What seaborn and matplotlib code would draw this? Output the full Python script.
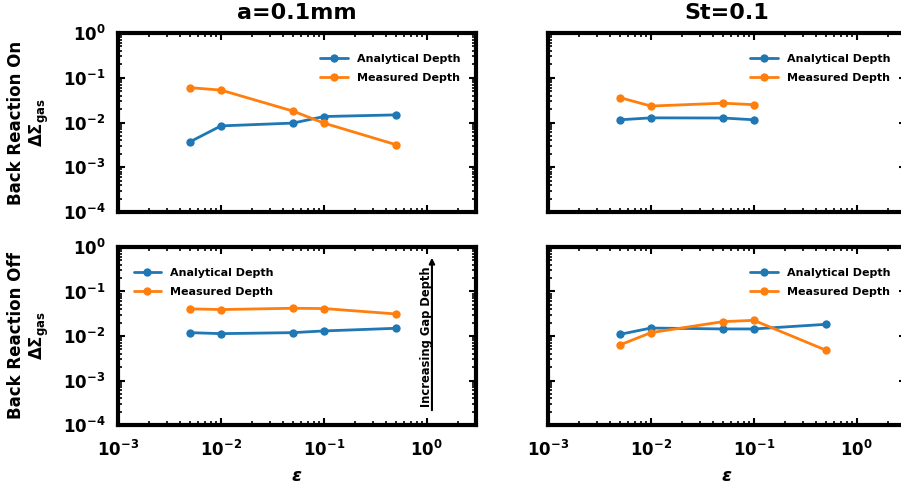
import matplotlib
matplotlib.use("Agg")
import matplotlib.pyplot as plt
import seaborn as sns
import pandas as pd
import numpy as np

# Data
eps_a = [0.005, 0.01, 0.05, 0.1, 0.5]
eps_st_on = [0.005, 0.01, 0.05, 0.1]
eps_st_off = [0.005, 0.01, 0.05, 0.1, 0.5]

# a=0.1mm, back reaction on
a_on_analytical = [0.0037, 0.0084, 0.0097, 0.0136, 0.0148]
a_on_measured = [0.060, 0.053, 0.018, 0.0097, 0.0032]
# St=0.1, back reaction on
st_on_analytical = [0.0115, 0.0127, 0.0126, 0.0115]
st_on_measured = [0.036, 0.0233, 0.027, 0.025]
# a=0.1mm, back reaction off
a_off_analytical = [0.0119, 0.0113, 0.0119, 0.0130, 0.0149]
a_off_measured = [0.0407, 0.0393, 0.042, 0.0414, 0.0313]
# St=0.1, back reaction off
st_off_analytical = [0.0109, 0.0151, 0.0144, 0.0144, 0.0183]
st_off_measured = [0.0063, 0.0119, 0.0210, 0.0225, 0.0048]

col_titles = ["a=0.1mm", "St=0.1"]
row_labels = ["Back Reaction On", "Back Reaction Off"]
series_names = ["Analytical Depth", "Measured Depth"]

sns.set_style("ticks")
plt.rcParams["font.family"] = ["DejaVu Sans"]
plt.rcParams["font.weight"] = "bold"
plt.rcParams["mathtext.fontset"] = "dejavusans"
plt.rcParams["mathtext.default"] = "bf"
for k in ["text.color", "axes.labelcolor", "xtick.color", "ytick.color", "axes.edgecolor"]:
    plt.rcParams[k] = "black"

fig = plt.figure(figsize=(9.01, 4.9), dpi=100)
W, H = 901, 490

def px_axes(x0, y_top, w, h):
    return fig.add_axes([x0 / W, 1 - (y_top + h) / H, w / W, h / H])

axes = [[px_axes(118, 33, 358, 179), px_axes(548, 33, 358, 179)],
        [px_axes(118, 247, 358, 178), px_axes(548, 247, 358, 178)]]

panels = [
    [(eps_a, a_on_analytical, a_on_measured), (eps_st_on, st_on_analytical, st_on_measured)],
    [(eps_a, a_off_analytical, a_off_measured), (eps_st_off, st_off_analytical, st_off_measured)],
]
colors = ["#1f77b4", "#ff7f0e"]

for r in range(2):
    for c in range(2):
        ax = axes[r][c]
        x, ana, mea = panels[r][c]
        df = pd.DataFrame({"eps": x * 2, "depth": ana + mea,
                           "series": [series_names[0]] * len(x) + [series_names[1]] * len(x)})
        sns.lineplot(data=df, x="eps", y="depth", hue="series", palette=colors,
                     marker="o", markersize=6, markeredgewidth=0, linewidth=2,
                     ax=ax)
        ax.set_xscale("log")
        ax.set_yscale("log")
        ax.set_xlim(1e-3, 3)
        ax.set_ylim(1e-4, 1)
        for s in ax.spines.values():
            s.set_linewidth(3)
            s.set_visible(True)
        ax.tick_params(which="both", direction="in", top=True, right=True)
        ax.tick_params(which="major", length=5, width=1.5, labelsize=12)
        ax.tick_params(which="minor", length=3, width=1.2)
        ax.tick_params(axis="x", which="major", pad=11)
        ax.tick_params(axis="y", which="major", pad=9)
        ax.set_xlabel("")
        ax.set_ylabel("")
        if r == 0:
            ax.tick_params(labelbottom=False)
            ax.set_title(col_titles[c], fontsize=16, fontweight="bold", pad=10)
        else:
            ax.set_xlabel(r"$\mathbfit{\epsilon}$", fontsize=13, labelpad=5)
        if c == 1:
            ax.tick_params(labelleft=False)
        else:
            ax.set_ylabel(row_labels[r] + "\n" + r"$\Delta\Sigma_{gas}$",
                          fontsize=12, fontweight="bold")
            ax.yaxis.set_label_coords(-0.186, 0.5)
        if r == 1 and c == 0:
            leg = ax.legend(loc="upper left", bbox_to_anchor=(0.0, 0.97), frameon=False,
                            fontsize=8, handlelength=2.5, labelspacing=0.85, borderaxespad=1.0)
        else:
            leg = ax.legend(loc="upper right", bbox_to_anchor=(1.0, 0.97), frameon=False,
                            fontsize=8, handlelength=2.5, labelspacing=0.85, borderaxespad=1.0)
        for t in leg.get_texts():
            t.set_fontweight("bold")

ax = axes[1][0]
ax.annotate("", xy=(1.12, 0.66), xytext=(1.12, 1.86e-4),
            arrowprops=dict(arrowstyle="-|>", color="black", lw=1.5, mutation_scale=8))
ax.text(1.0, 0.0095, "Increasing Gap Depth", rotation=90, ha="center", va="center",
        fontsize=8.3, fontweight="bold")

fig.savefig("out.png", dpi=100)
